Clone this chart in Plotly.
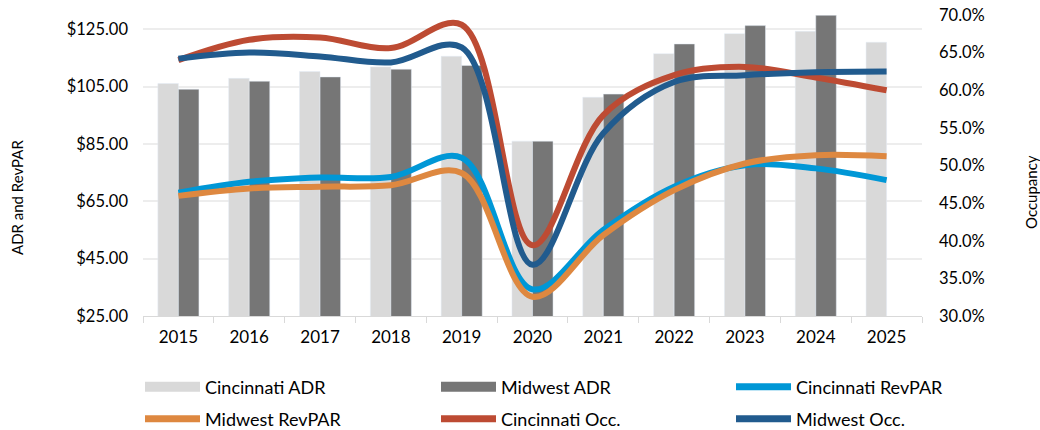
import plotly.graph_objects as go

years = ["2015", "2016", "2017", "2018", "2019", "2020", "2021", "2022", "2023", "2024", "2025"]
cin_adr = [106.1, 107.9, 110.3, 111.9, 115.6, 86.0, 101.3, 116.5, 123.5, 124.3, 120.5]
mw_adr = [104.1, 106.9, 108.4, 111.1, 112.4, 86.0, 102.4, 119.9, 126.3, 129.9, None]
cin_revpar = [68.0, 71.8, 73.3, 73.5, 80.2, 34.3, 55.0, 70.1, 77.6, 76.5, 72.4]
mw_revpar = [66.9, 69.5, 70.1, 70.6, 74.9, 31.7, 53.2, 68.9, 78.2, 81.1, 80.7]
cin_occ = [0.640, 0.667, 0.670, 0.656, 0.687, 0.394, 0.567, 0.620, 0.631, 0.617, 0.600]
mw_occ = [0.642, 0.650, 0.645, 0.637, 0.657, 0.368, 0.543, 0.611, 0.620, 0.624, 0.625]

C_LGRAY = "#D9D9D9"
C_DGRAY = "#767676"
C_LBLUE = "#0097D6"
C_ORANGE = "#DE8840"
C_RED = "#BD4B33"
C_DBLUE = "#215B8E"
FONT = "Lato"

fig = go.Figure()
fig.add_bar(x=years, y=cin_adr, marker_color=C_LGRAY, name="Cincinnati ADR", showlegend=False)
fig.add_bar(x=years, y=mw_adr, marker_color=C_DGRAY, name="Midwest ADR", showlegend=False)
fig.add_scatter(x=years, y=cin_revpar, mode="lines", line=dict(color=C_LBLUE, width=6, shape="spline"),
                name="Cincinnati RevPAR", showlegend=False)
fig.add_scatter(x=years, y=mw_revpar, mode="lines", line=dict(color=C_ORANGE, width=6, shape="spline"),
                name="Midwest RevPAR", showlegend=False)
fig.add_scatter(x=years, y=cin_occ, yaxis="y2", mode="lines", line=dict(color=C_RED, width=6, shape="spline"),
                name="Cincinnati Occ.", showlegend=False)
fig.add_scatter(x=years, y=mw_occ, yaxis="y2", mode="lines", line=dict(color=C_DBLUE, width=6, shape="spline"),
                name="Midwest Occ.", showlegend=False)

# legend proxies: (name, colour, thickness, legend id, left px, centre y px)
legend_items = [
    ("Cincinnati ADR", C_LGRAY, 10, "legend", 140, 387),
    ("Midwest ADR", C_DGRAY, 10, "legend2", 436, 387),
    ("Cincinnati RevPAR", C_LBLUE, 7, "legend3", 731, 387),
    ("Midwest RevPAR", C_ORANGE, 7, "legend4", 140, 419),
    ("Cincinnati Occ.", C_RED, 7, "legend5", 436, 419),
    ("Midwest Occ.", C_DBLUE, 7, "legend6", 731, 419),
]
legend_layouts = {}
for name, col, w, lg, lx, ly in legend_items:
    fig.add_scatter(x=[None], y=[None], mode="lines", line=dict(color=col, width=w),
                    name=name, legend=lg, showlegend=True)
    legend_layouts[lg] = dict(orientation="h", xref="container", yref="container",
                              xanchor="left", yanchor="middle", x=lx / 1040, y=1 - ly / 430,
                              font=dict(family=FONT, size=18, color="#000000"), itemwidth=55,
                              bgcolor="rgba(0,0,0,0)", itemclick=False)

fig.update_layout(
    width=1040, height=430,
    margin=dict(l=143, r=118, t=15, b=114),
    paper_bgcolor="white", plot_bgcolor="white",
    barmode="group", bargap=0.42, bargroupgap=0,
    font=dict(family=FONT, size=16, color="#000000"),
    xaxis=dict(type="category", showgrid=False, ticks="outside", tickson="boundaries", ticklen=6,
               tickcolor="#D9D9D9", showline=True, linecolor="#D9D9D9", linewidth=1,
               tickfont=dict(size=17), ticklabelstandoff=6, automargin=False),
    yaxis=dict(range=[25, 130], tick0=25, dtick=20, tickprefix="$", tickformat=",.2f",
               showgrid=True, gridcolor="#EDEDED", gridwidth=1.5, zeroline=False,
               showline=False, ticks="", tickfont=dict(size=16.5), ticklabelstandoff=14, automargin=False),
    yaxis2=dict(range=[0.30, 0.70], dtick=0.05, tick0=0.30, tickformat=".1%", overlaying="y", side="right",
                showgrid=False, zeroline=False, showline=False, ticks="", tickfont=dict(size=16.5),
                ticklabelstandoff=16, automargin=False),
    annotations=[
        dict(text="ADR and RevPAR", xref="paper", yref="paper", x=(17 - 143) / 779, y=(316 - 197) / 301,
             textangle=-90, showarrow=False, font=dict(family=FONT, size=15), xanchor="center", yanchor="middle"),
        dict(text="Occupancy", xref="paper", yref="paper", x=(1031 - 143) / 779, y=(316 - 192) / 301,
             textangle=-90, showarrow=False, font=dict(family=FONT, size=15), xanchor="center", yanchor="middle"),
    ],
    **legend_layouts,
)

fig.write_html("out.html", config={"displayModeBar": False},
               post_script="document.body.style.margin='0';")
